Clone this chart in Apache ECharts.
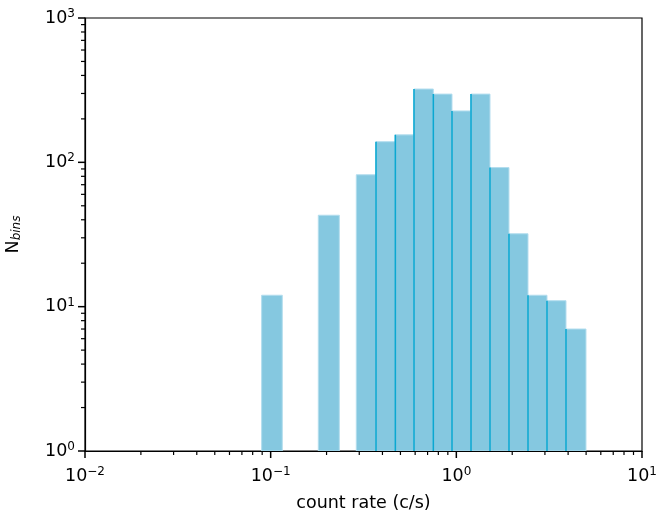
<!DOCTYPE html>
<html>
<head>
<meta charset="utf-8">
<script src="https://cdn.jsdelivr.net/npm/echarts@6/dist/echarts.min.js"></script>
<style>
  html, body { margin: 0; padding: 0; background: #fff; }
  #chart { width: 657px; height: 516px; }
</style>
</head>
<body>
<div id="chart"></div>
<script>
// histogram bins (count rate, c/s)
const binLeft  = [0.0894, 0.1805, 0.2892, 0.3693, 0.4692, 0.5916, 0.7515, 0.9476, 1.1995, 1.518, 1.921, 2.432, 3.078, 3.896];
const binRight = [0.1155, 0.2343, 0.3693, 0.4692, 0.5916, 0.7515, 0.9476, 1.1995, 1.518, 1.921, 2.432, 3.078, 3.896, 4.992];
const counts   = [12, 43, 82, 139, 155, 322, 297, 227, 297, 92, 32, 12, 11, 7];

// tick positions
const xMajor = [0.01, 0.1, 1, 10];
const yMajor = [1, 10, 100, 1000];
const minorMult = [2, 3, 4, 5, 6, 7, 8, 9];

const FONT = 'DejaVu Sans';
const supLabel = function (value) {
  const p = Math.round(Math.log10(value));
  return '{b|10}{s|' + String(p).replace('-', '\u2212') + '}';
};
const richSup = {
  b: { fontFamily: FONT, fontSize: 17.5, color: '#000', lineHeight: 20 },
  s: { fontFamily: FONT, fontSize: 12, color: '#000', verticalAlign: 'top', lineHeight: 20, padding: [0, 0, 9, 0] }
};

const barData = binLeft.map(function (x0, i) {
  const joined = i > 0 && Math.abs(binRight[i - 1] - x0) < 1e-6 ? 1 : 0;
  return [x0, binRight[i], counts[i], joined];
});

const chart = echarts.init(document.getElementById('chart'), null, { renderer: 'canvas' });

const option = {
  animation: false,
  backgroundColor: '#fff',
  grid: {
    left: 85, right: 15, top: 18, bottom: 65,
    outerBoundsMode: 'none', containLabel: false,
    show: true, borderColor: '#000', borderWidth: 1.2, backgroundColor: 'transparent'
  },
  xAxis: {
    type: 'log', logBase: 10, min: 0.01, max: 10,
    name: 'count rate (c/s)', nameLocation: 'middle', nameGap: 43,
    nameTextStyle: { fontFamily: FONT, fontSize: 17.5, color: '#000' },
    axisLine: { show: true, lineStyle: { color: '#000', width: 1.2 } },
    axisTick: { show: false },
    axisLabel: { formatter: supLabel, rich: richSup, margin: 15 },
    splitLine: { show: false }
  },
  yAxis: {
    type: 'log', logBase: 10, min: 1, max: 1000,
    name: 'N{sub|bins}', nameLocation: 'middle', nameGap: 62, nameRotate: 90,
    nameTextStyle: {
      fontFamily: FONT, fontSize: 17.5, color: '#000',
      rich: { sub: { fontFamily: FONT, fontSize: 12, fontStyle: 'italic', color: '#000', verticalAlign: 'bottom', padding: [7, 0, 0, 0] } }
    },
    axisLine: { show: true, lineStyle: { color: '#000', width: 1.2 } },
    axisTick: { show: false },
    axisLabel: { formatter: supLabel, rich: richSup, margin: 10 },
    splitLine: { show: false }
  },
  series: [
    {
      type: 'custom',
      clip: true,
      data: barData,
      encode: { x: [0, 1], y: 2 },
      renderItem: function (params, api) {
        const p0 = api.coord([api.value(0), api.value(2)]);
        const p1 = api.coord([api.value(1), 1]);
        const children = [{
          type: 'rect',
          shape: { x: p0[0], y: p0[1], width: p1[0] - p0[0], height: p1[1] - p0[1] },
          style: { fill: '#85c8e0', stroke: '#b3ddee', lineWidth: 1 }
        }];
        if (api.value(3)) {
          children.push({
            type: 'line',
            shape: { x1: p0[0], y1: p0[1], x2: p0[0], y2: p1[1] },
            style: { stroke: '#0ba7d1', lineWidth: 1.6 }
          });
        }
        return { type: 'group', children: children };
      }
    }
  ]
};

chart.setOption(option);

// matplotlib-style outward ticks, placed through the chart's own scales
const ticks = [];
function addX(v, len, w) {
  const p = chart.convertToPixel({ gridIndex: 0 }, [v, 1]);
  ticks.push({ type: 'line', silent: true, z: 100, shape: { x1: p[0], y1: p[1], x2: p[0], y2: p[1] + len }, style: { stroke: '#000', lineWidth: w } });
}
function addY(v, len, w) {
  const p = chart.convertToPixel({ gridIndex: 0 }, [0.01, v]);
  ticks.push({ type: 'line', silent: true, z: 100, shape: { x1: p[0], y1: p[1], x2: p[0] - len, y2: p[1] }, style: { stroke: '#000', lineWidth: w } });
}
xMajor.forEach(function (v) { addX(v, 7, 1.5); });
yMajor.forEach(function (v) { addY(v, 7, 1.5); });
xMajor.slice(0, 3).forEach(function (d) { minorMult.forEach(function (m) { addX(d * m, 4, 1.2); }); });
yMajor.slice(0, 3).forEach(function (d) { minorMult.forEach(function (m) { addY(d * m, 4, 1.2); }); });
chart.setOption({ graphic: ticks });
</script>
</body>
</html>
